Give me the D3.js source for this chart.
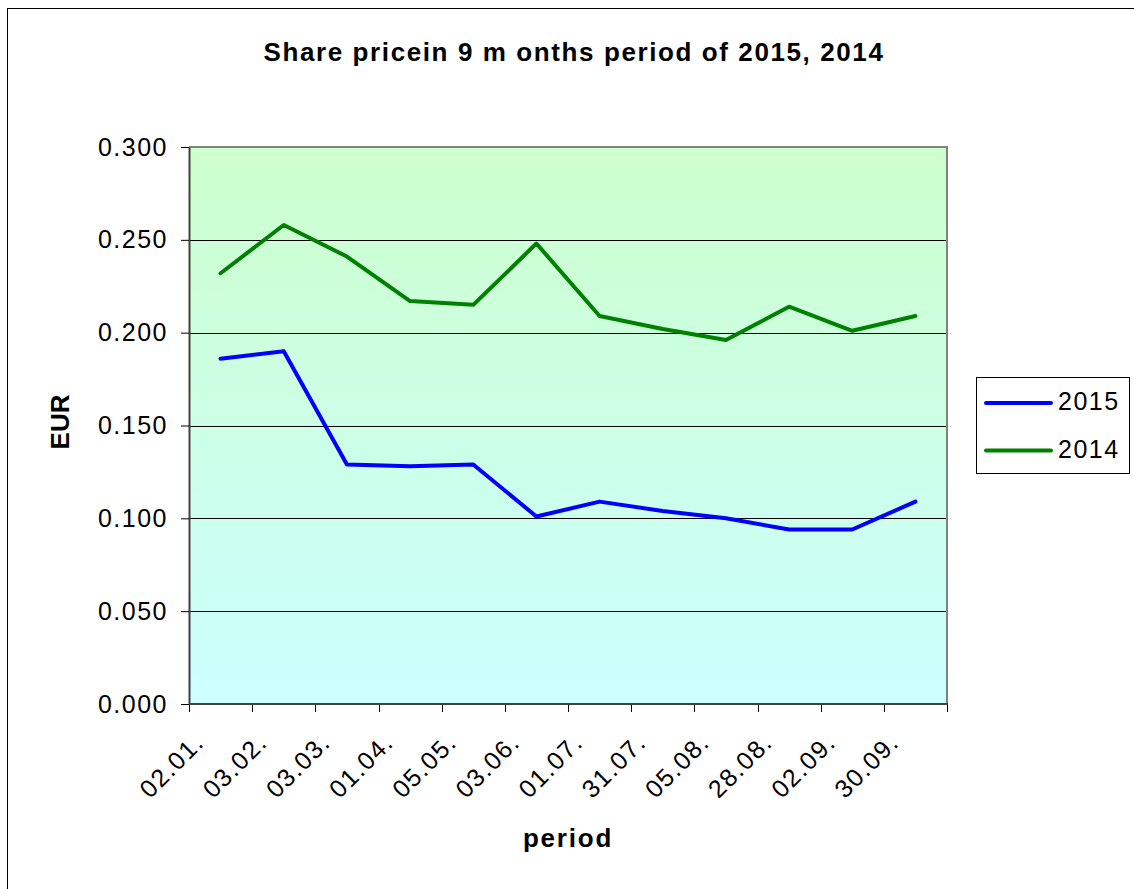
<!DOCTYPE html>
<html>
<head>
<meta charset="utf-8">
<script src="https://cdn.jsdelivr.net/npm/d3@7"></script>
<style>
  body { margin: 0; background: #fff; }
  svg { display: block; font-family: "Liberation Sans", Arial, sans-serif; }
</style>
</head>
<body>
<svg id="chart" width="1134" height="889"></svg>
<script>
// Chart data
const periods = ['02.01.', '03.02.', '03.03.', '01.04.', '05.05.', '03.06.',
  '01.07.', '31.07.', '05.08.', '28.08.', '02.09.', '30.09.']
const price2015 = [0.186, 0.190, 0.129, 0.128, 0.129, 0.101,
  0.109, 0.104, 0.100, 0.094, 0.094, 0.109]
const price2014 = [0.232, 0.258, 0.241, 0.217, 0.215, 0.248,
  0.209, 0.202, 0.196, 0.214, 0.201, 0.209]
const yTicks = [0, 0.05, 0.1, 0.15, 0.2, 0.25, 0.3]
const seriesNames = ['2015', '2014']

const series = [
  { name: seriesNames[0], values: price2015, color: '#0000ff' },
  { name: seriesNames[1], values: price2014, color: '#008000' }
]

const svg = d3.select('#chart')
const plot = { left: 189, right: 947, top: 147, bottom: 704 }

// Outer chart border (runs off the right and bottom edges like the source)
svg.append('rect')
  .attr('x', 7.5).attr('y', 8.5)
  .attr('width', 1140).attr('height', 900)
  .attr('fill', 'none').attr('stroke', '#000').attr('stroke-width', 1)

// Gradient plot background
const grad = svg.append('defs').append('linearGradient')
  .attr('id', 'bg').attr('x1', 0).attr('y1', 0).attr('x2', 0).attr('y2', 1)
grad.append('stop').attr('offset', '0%').attr('stop-color', '#ccffcc')
grad.append('stop').attr('offset', '100%').attr('stop-color', '#ccffff')

const xScale = d3.scaleBand()
  .domain(periods)
  .range([plot.left, plot.right])

const yScale = d3.scaleLinear()
  .domain([0, 0.3])
  .range([plot.bottom, plot.top])

svg.append('rect')
  .attr('x', plot.left).attr('y', plot.top)
  .attr('width', plot.right - plot.left).attr('height', plot.bottom - plot.top)
  .attr('fill', 'url(#bg)')

// Horizontal gridlines
svg.append('g')
  .selectAll('line')
  .data(yTicks.filter(t => t > 0 && t < 0.3))
  .join('line')
  .attr('x1', plot.left).attr('x2', plot.right)
  .attr('y1', d => Math.round(yScale(d)) + 0.5)
  .attr('y2', d => Math.round(yScale(d)) + 0.5)
  .attr('stroke', '#000').attr('stroke-width', 1)

// Plot frame: grey top and right edges
svg.append('path')
  .attr('d', `M${plot.left},${plot.top} H${plot.right} V${plot.bottom}`)
  .attr('fill', 'none').attr('stroke', '#808080').attr('stroke-width', 2)

// Y axis
const yAxis = svg.append('g')
  .attr('transform', `translate(${plot.left},0)`)
  .call(d3.axisLeft(yScale).tickValues(yTicks).tickFormat(d3.format('.3f'))
    .tickSize(8).tickSizeOuter(0).tickPadding(13))
yAxis.select('.domain').attr('stroke', '#404040').attr('stroke-width', 2)
yAxis.selectAll('.tick line').attr('stroke', '#000')
yAxis.selectAll('.tick text')
  .attr('font-size', 25).attr('fill', '#000')
  .attr('letter-spacing', 1.5)
  .attr('font-family', '"Liberation Sans", Arial, sans-serif')

// X axis: ticks at category boundaries
const boundaries = periods.map(p => xScale(p)).concat([plot.right])
const xAxis = svg.append('g')
svg.append('line')
  .attr('x1', plot.left).attr('x2', plot.right + 1)
  .attr('y1', plot.bottom).attr('y2', plot.bottom)
  .attr('stroke', '#404040').attr('stroke-width', 2)
xAxis.selectAll('line')
  .data(boundaries)
  .join('line')
  .attr('x1', d => Math.round(d) + 0.5).attr('x2', d => Math.round(d) + 0.5)
  .attr('y1', plot.bottom).attr('y2', plot.bottom + 8)
  .attr('stroke', '#000')

xAxis.selectAll('text')
  .data(periods)
  .join('text')
  .attr('transform', d => {
    const cx = xScale(d) + xScale.bandwidth() / 2
    return `translate(${cx - 15},${plot.bottom + 40}) rotate(-45)`
  })
  .attr('text-anchor', 'end')
  .attr('font-size', 25)
  .attr('letter-spacing', 1.5)
  .attr('fill', '#000')
  .text(d => d)

// Lines
const line = d3.line()
  .x((d, i) => xScale(periods[i]) + xScale.bandwidth() / 2)
  .y(d => yScale(d))

svg.append('g')
  .selectAll('path')
  .data(series)
  .join('path')
  .attr('d', d => line(d.values))
  .attr('fill', 'none')
  .attr('stroke', d => d.color)
  .attr('stroke-width', 4)
  .attr('stroke-linejoin', 'round')
  .attr('stroke-linecap', 'round')

// Titles
svg.append('text')
  .attr('x', 574).attr('y', 61)
  .attr('text-anchor', 'middle')
  .attr('font-size', 26).attr('font-weight', 'bold')
  .attr('letter-spacing', 1.6)
  .text('Share pricein 9 m onths period of 2015, 2014')

svg.append('text')
  .attr('transform', 'translate(69,422) rotate(-90)')
  .attr('text-anchor', 'middle')
  .attr('font-size', 26).attr('font-weight', 'bold')
  .text('EUR')

svg.append('text')
  .attr('x', 568).attr('y', 847)
  .attr('text-anchor', 'middle')
  .attr('font-size', 26).attr('font-weight', 'bold')
  .attr('letter-spacing', 1.8)
  .text('period')

// Legend
const legend = svg.append('g').attr('transform', 'translate(976,377)')
legend.append('rect')
  .attr('x', 0.5).attr('y', 0.5).attr('width', 153).attr('height', 96)
  .attr('fill', '#fff').attr('stroke', '#000')

const item = legend.selectAll('g.item')
  .data(series)
  .join('g')
  .attr('class', 'item')
  .attr('transform', (d, i) => `translate(0,${26 + i * 47.5})`)
item.append('line')
  .attr('x1', 10).attr('x2', 75)
  .attr('stroke', d => d.color).attr('stroke-width', 4)
  .attr('stroke-linecap', 'round')
item.append('text')
  .attr('x', 82).attr('y', 7)
  .attr('dy', 0)
  .attr('font-size', 25)
  .attr('letter-spacing', 1.5)
  .text(d => d.name)
</script>
</body>
</html>
